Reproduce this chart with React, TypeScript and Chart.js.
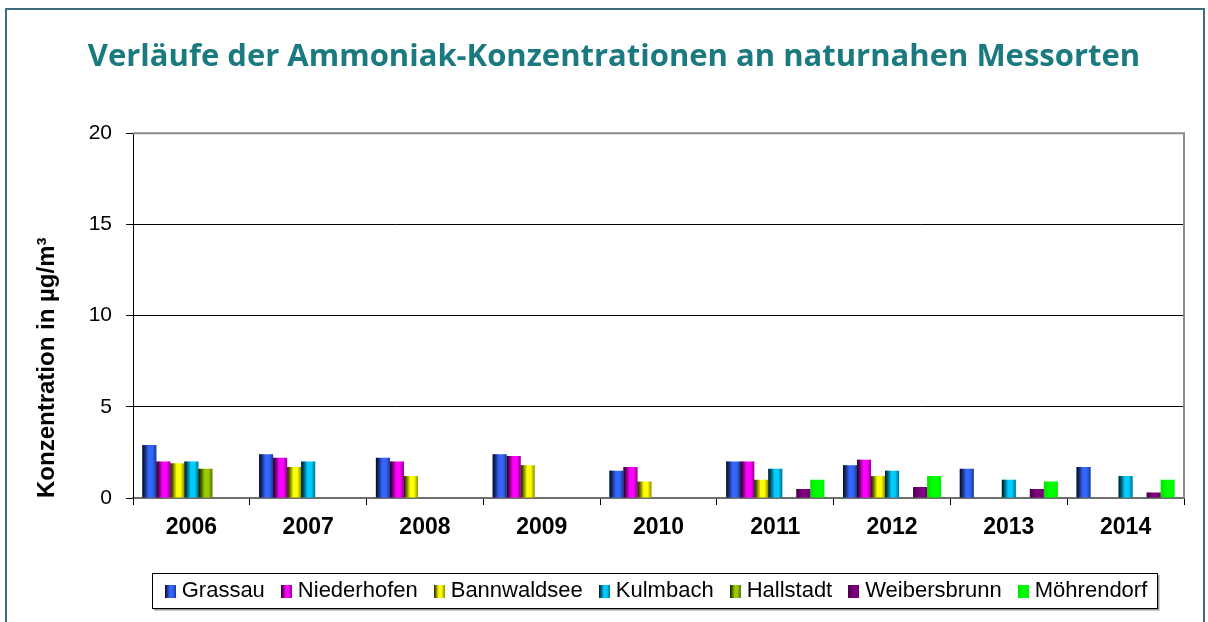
import React, { useEffect, useRef } from 'react';
import { Chart, registerables } from 'chart.js';

Chart.register(...registerables);

const categories = ['2006', '2007', '2008', '2009', '2010', '2011', '2012', '2013', '2014'];
const grassau = [2.9, 2.4, 2.2, 2.4, 1.5, 2.0, 1.8, 1.6, 1.7];
const niederhofen = [2.0, 2.2, 2.0, 2.3, 1.7, 2.0, 2.1, null, null];
const bannwaldsee = [1.9, 1.7, 1.2, 1.8, 0.9, 1.0, 1.2, null, null];
const kulmbach = [2.0, 2.0, null, null, null, 1.6, 1.5, 1.0, 1.2];
const hallstadt = [1.6, null, null, null, null, null, null, null, null];
const weibersbrunn = [null, null, null, null, null, 0.5, 0.6, 0.5, 0.3];
const moehrendorf = [null, null, null, null, null, 1.0, 1.2, 0.9, 1.0];

const seriesNames = ['Grassau', 'Niederhofen', 'Bannwaldsee', 'Kulmbach', 'Hallstadt', 'Weibersbrunn', 'Möhrendorf'];
const seriesData = [grassau, niederhofen, bannwaldsee, kulmbach, hallstadt, weibersbrunn, moehrendorf];
const seriesColors = ['#3366FF', '#FF00FF', '#FFFF00', '#00CCFF', '#99CC00', '#800080', '#00FF00'];
const shadeStrength = [1, 1, 1, 1, 1, 0.5, 0.12];

const yMin = 0;
const yMax = 20;
const yStep = 5;

const titleText = 'Verläufe der Ammoniak-Konzentrationen an naturnahen Messorten';
const yTitleText = 'Konzentration in µg/m³';

const FONT = "'Liberation Sans', Arial, Helvetica, sans-serif";

function addStops(gr: CanvasGradient, s: number) {
  gr.addColorStop(0, `rgba(0,0,0,${0.9 * s})`);
  gr.addColorStop(0.2, `rgba(0,0,0,${0.55 * s})`);
  gr.addColorStop(0.45, 'rgba(0,0,0,0)');
  gr.addColorStop(0.72, 'rgba(0,0,0,0)');
  gr.addColorStop(1, `rgba(0,0,0,${0.45 * s})`);
}

function makeMarker(color: string, s: number) {
  const c = document.createElement('canvas');
  c.width = 11;
  c.height = 13;
  const g = c.getContext('2d')!;
  g.fillStyle = color;
  g.fillRect(0, 0, 11, 13);
  const gr = g.createLinearGradient(0, 0, 11, 0);
  addStops(gr, s);
  g.fillStyle = gr;
  g.fillRect(0, 0, 11, 13);
  return c;
}

const barShade = {
  id: 'barShade',
  afterDatasetsDraw(chart: any) {
    const ctx = chart.ctx;
    ctx.save();
    chart.data.datasets.forEach((ds: any, di: number) => {
      const meta = chart.getDatasetMeta(di);
      meta.data.forEach((el: any, i: number) => {
        if (ds.data[i] == null) return;
        const { x, y, base, width } = el.getProps(['x', 'y', 'base', 'width'], true);
        const left = x - width / 2;
        const gr = ctx.createLinearGradient(left, 0, left + width, 0);
        addStops(gr, shadeStrength[di]);
        ctx.fillStyle = gr;
        ctx.fillRect(left, y, width, base - y);
      });
    });
    ctx.restore();
  },
};

const decorations = {
  id: 'decorations',
  afterDraw(chart: any) {
    const ctx = chart.ctx;
    const a = chart.chartArea;
    ctx.save();
    // outer frame
    ctx.strokeStyle = '#3f6a80';
    ctx.lineWidth = 2;
    ctx.strokeRect(6, 9, 1198, 700);
    // plot area top & right border
    ctx.strokeStyle = '#8a8a8a';
    ctx.lineWidth = 2;
    ctx.beginPath();
    ctx.moveTo(a.left, a.top);
    ctx.lineTo(a.right, a.top);
    ctx.lineTo(a.right, a.bottom);
    ctx.stroke();
    // legend border
    const hb = chart.legend && chart.legend.legendHitBoxes;
    if (hb && hb.length) {
      const first = hb[0];
      const last = hb[hb.length - 1];
      const left = Math.round(first.left - 18);
      const right = Math.round(last.left + last.width + 10);
      const cy = first.top + first.height / 2;
      const top = Math.round(cy - 18);
      const bottom = Math.round(cy + 17);
      ctx.strokeStyle = '#9a9a9a';
      ctx.lineWidth = 2;
      ctx.beginPath();
      ctx.moveTo(right + 1.5, top + 2);
      ctx.lineTo(right + 1.5, bottom + 1.5);
      ctx.lineTo(left + 2, bottom + 1.5);
      ctx.stroke();
      ctx.strokeStyle = '#000';
      ctx.lineWidth = 1;
      ctx.strokeRect(left + 0.5, top + 0.5, right - left, bottom - top);
    }
    ctx.restore();
  },
};

export default function App() {
  const ref = useRef<HTMLCanvasElement | null>(null);

  useEffect(() => {
    if (!ref.current) return;
    const markers = seriesColors.map((c, i) => makeMarker(c, shadeStrength[i]));
    const chart = new Chart(ref.current, {
      type: 'bar',
      data: {
        labels: categories,
        datasets: seriesNames.map((name, i) => ({
          label: name,
          data: seriesData[i],
          backgroundColor: seriesColors[i],
          borderWidth: 0,
          categoryPercentage: 0.84,
          barPercentage: 1.0,
        })),
      },
      options: {
        responsive: false,
        animation: false,
        layout: { padding: { left: 44, right: 24, top: 0, bottom: 10 } },
        scales: {
          x: {
            grid: {
              display: true,
              drawOnChartArea: false,
              drawTicks: true,
              tickLength: 7,
              color: '#000',
              offset: true,
            },
            border: { display: true, color: '#6e6e6e', width: 2 },
            ticks: {
              color: '#000',
              font: { family: FONT, size: 23, weight: 'bold' },
              padding: 9,
              maxRotation: 0,
            },
            afterFit(scale: any) {
              scale.height = 61;
            },
          },
          y: {
            min: yMin,
            max: yMax,
            ticks: {
              stepSize: yStep,
              color: '#000',
              font: { family: FONT, size: 21 },
              padding: 14,
            },
            grid: {
              color: (c: any) => (c.tick && (c.tick.value === yMin || c.tick.value === yMax) ? 'rgba(0,0,0,0)' : '#000'),
              tickColor: '#000',
              lineWidth: 1,
              tickLength: 7,
            },
            border: { display: true, color: '#000', width: 1 },
            title: {
              display: true,
              text: yTitleText,
              color: '#000',
              font: { family: FONT, size: 24, weight: 'bold' },
              align: 'start',
              padding: { top: -11, bottom: 0 },
            },
            afterFit(scale: any) {
              scale.width = 89;
            },
          },
        },
        plugins: {
          title: {
            display: true,
            text: titleText,
            color: '#1A7A80',
            font: { family: "'Open Sans', sans-serif", size: 31, weight: 'bold' },
            padding: { top: 39, bottom: 57 },
          },
          legend: {
            position: 'bottom',
            fullSize: false,
            labels: {
              color: '#000',
              font: { family: FONT, size: 22 },
              usePointStyle: true,
              pointStyleWidth: 1,
              padding: 21,
              generateLabels(chart: any) {
                const items = (Chart.defaults.plugins.legend.labels as any).generateLabels(chart);
                return items.map((it: any, i: number) => ({ ...it, pointStyle: markers[i], lineWidth: 0 }));
              },
            },
          },
          tooltip: { enabled: false },
        },
      } as any,
      plugins: [barShade, decorations],
    });
    return () => chart.destroy();
  }, []);

  return (
    <div style={{ position: 'fixed', left: 0, top: 0, width: 1208, height: 622, background: '#fff' }}>
      <canvas ref={ref} width={1208} height={622} style={{ display: 'block' }} />
    </div>
  );
}
